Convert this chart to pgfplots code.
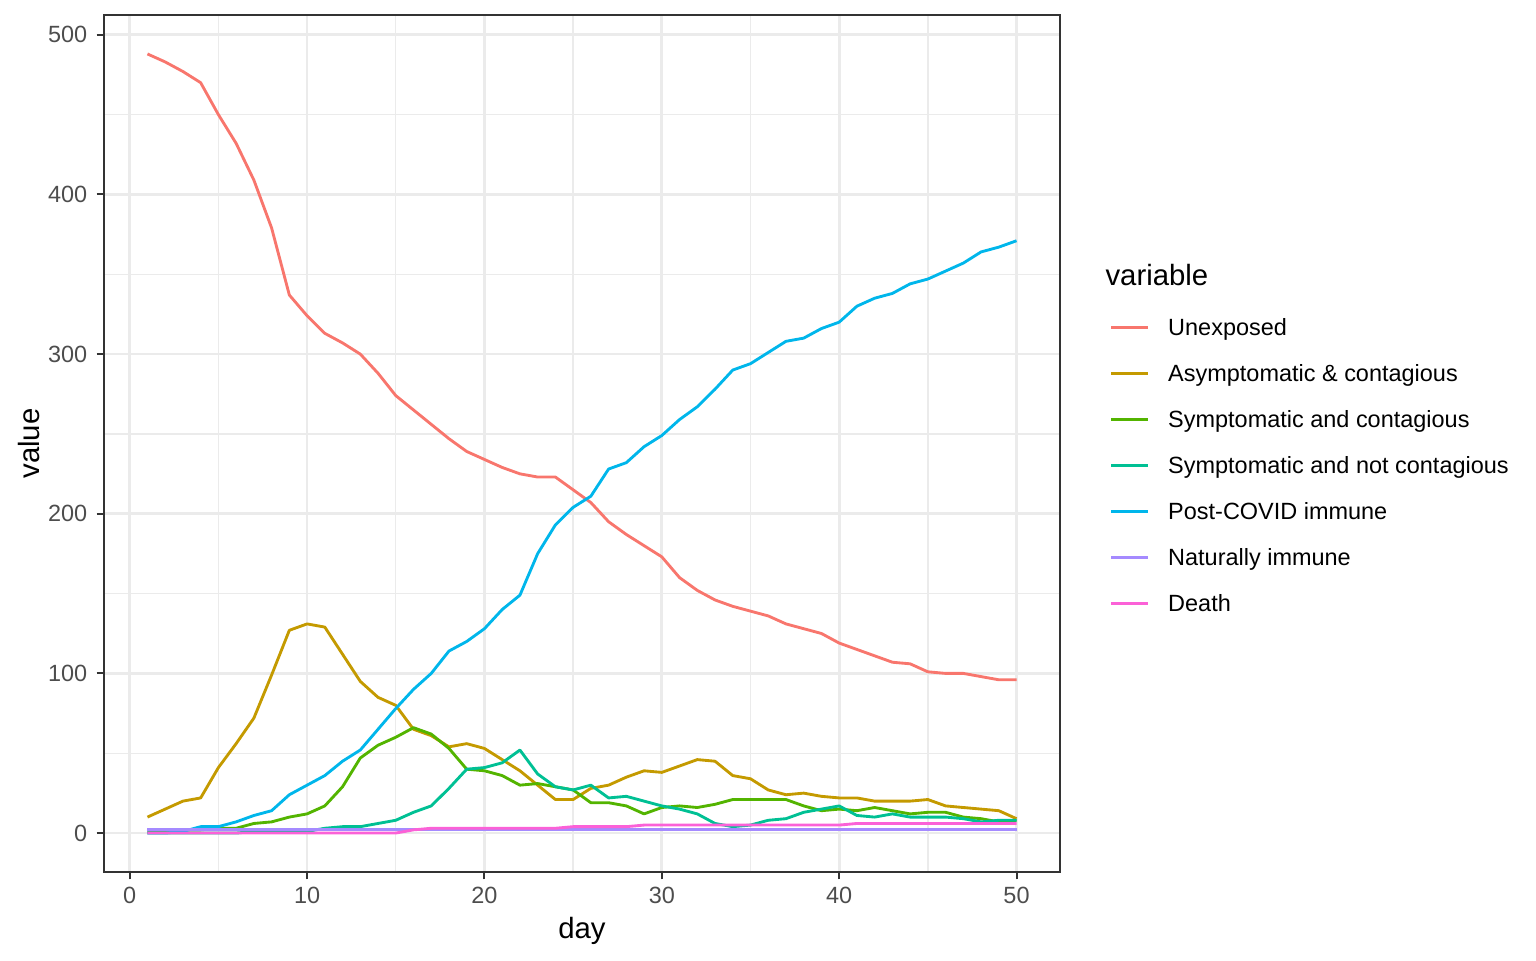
\documentclass[border=0pt]{standalone}
\usepackage{pgfplots}
\pgfplotsset{compat=1.18}
\usepackage{pgfplotstable}
\usepackage{fontspec}
\setmainfont{Liberation Sans}
\definecolor{cU}{HTML}{F8766D}
\definecolor{cA}{HTML}{C49A00}
\definecolor{cSC}{HTML}{53B400}
\definecolor{cSN}{HTML}{00C094}
\definecolor{cP}{HTML}{00B6EB}
\definecolor{cN}{HTML}{A58AFF}
\definecolor{cD}{HTML}{FB61D7}
\definecolor{grey92}{HTML}{EBEBEB}
\definecolor{grey20}{HTML}{333333}
\definecolor{grey30}{HTML}{4D4D4D}
\pgfplotstableread{
day U A SC SN P N D
1 488 10 1 0 0 2 0
2 483 15 1 0 0 2 0
3 477 20 2 0 1 2 0
4 470 22 2 0 4 2 0
5 450 41 3 0 4 2 0
6 432 56 3 0 7 2 0
7 409 72 6 1 11 2 0
8 379 99 7 1 14 2 0
9 337 127 10 1 24 2 0
10 324 131 12 1 30 2 0
11 313 129 17 3 36 2 0
12 307 112 29 4 45 2 0
13 300 95 47 4 52 2 0
14 288 85 55 6 65 2 0
15 274 80 60 8 78 2 0
16 265 65 66 13 90 2 2
17 256 61 62 17 100 2 3
18 247 54 53 28 114 2 3
19 239 56 40 40 120 2 3
20 234 53 39 41 128 2 3
21 229 46 36 44 140 2 3
22 225 39 30 52 149 2 3
23 223 30 31 37 175 2 3
24 223 21 29 29 193 2 3
25 215 21 27 27 204 2 4
26 207 28 19 30 211 2 4
27 195 30 19 22 228 2 4
28 187 35 17 23 232 2 4
29 180 39 12 20 242 2 5
30 173 38 16 17 249 2 5
31 160 42 17 15 259 2 5
32 152 46 16 12 267 2 5
33 146 45 18 6 278 2 5
34 142 36 21 4 290 2 5
35 139 34 21 5 294 2 5
36 136 27 21 8 301 2 5
37 131 24 21 9 308 2 5
38 128 25 17 13 310 2 5
39 125 23 14 15 316 2 5
40 119 22 15 17 320 2 5
41 115 22 14 11 330 2 6
42 111 20 16 10 335 2 6
43 107 20 14 12 338 2 6
44 106 20 12 10 344 2 6
45 101 21 13 10 347 2 6
46 100 17 13 10 352 2 6
47 100 16 10 9 357 2 6
48 98 15 9 7 364 2 6
49 96 14 7 8 367 2 6
50 96 9 8 8 371 2 6
}\datatable
\begin{document}
\begin{tikzpicture}
\path[use as bounding box] (-39pt,-33pt) rectangle (537pt,327pt);
\begin{axis}[
  at={(0pt,0pt)}, anchor=south west,
  scale only axis, width=358.5pt, height=321.375pt,
  xmin=-1.45, xmax=52.45, ymin=-24.4, ymax=512.4,
  clip mode=individual,
  xtick={0,10,20,30,40,50}, ytick={0,100,200,300,400,500},
  minor xtick={5,15,25,35,45}, minor ytick={50,150,250,350,450},
  grid=both,
  major grid style={color=grey92, line width=1.0pt},
  minor grid style={color=grey92, line width=0.5pt},
  axis line style={color=grey20, line width=0.75pt},
  tick align=outside, tick pos=left,
  major tick length=2.75pt, minor tick length=0pt,
  major tick style={color=grey20, line width=0.75pt},
  minor tick style={draw=none},
  /pgf/number format/assume math mode=true,
  ticklabel style={font=\fontsize{8.8}{10}\selectfont, color=grey30},
  xticklabel style={yshift=0.6pt},
  xlabel={day}, ylabel={value},
  label style={font=\fontsize{11}{13}\selectfont, color=black},
  xlabel style={at={(axis description cs:0.5,0)}, anchor=center, yshift=-22pt},
  ylabel style={at={(axis description cs:-0.0785,0.5)}, anchor=center},
  legend style={at={(axis description cs:1.0523,0.64527)}, anchor=north west,
    draw=none, fill=none, inner sep=0pt, outer sep=0pt,
    row sep=10.95pt, column sep=0pt,
    font=\fontsize{8.8}{10}\selectfont,
    nodes={inner sep=0pt, text height=6.3pt, text depth=0pt}},
  legend cell align=left,
  legend image code/.code={\draw[#1] (0pt,0pt) -- (13.8pt,0pt); \path[draw=none,fill=none] (0pt,0pt) -- (21.3pt,0pt);},
  every axis plot/.append style={line width=1.07pt, line join=round, no markers},
]
\addplot[cU] table[x=day,y=U] {\datatable};
\addlegendentry{Unexposed}
\addplot[cA] table[x=day,y=A] {\datatable};
\addlegendentry{Asymptomatic \& contagious}
\addplot[cSC] table[x=day,y=SC] {\datatable};
\addlegendentry{Symptomatic and contagious}
\addplot[cSN] table[x=day,y=SN] {\datatable};
\addlegendentry{Symptomatic and not contagious}
\addplot[cP] table[x=day,y=P] {\datatable};
\addlegendentry{Post-COVID immune}
\addplot[cN] table[x=day,y=N] {\datatable};
\addlegendentry{Naturally immune}
\addplot[cD] table[x=day,y=D] {\datatable};
\addlegendentry{Death}
\node[anchor=base west, font=\fontsize{11}{13}\selectfont, inner sep=0pt] at (axis description cs:1.04707,0.68413) {variable};
\end{axis}
\end{tikzpicture}
\end{document}
